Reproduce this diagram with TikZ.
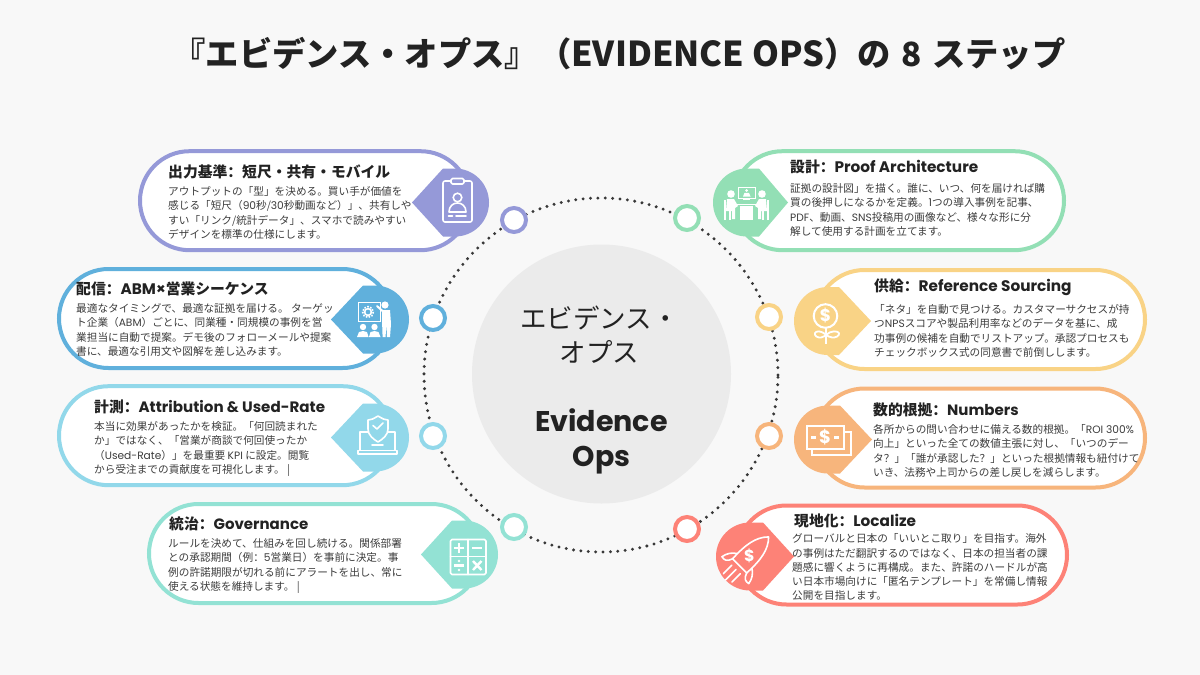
\documentclass[tikz,border=0pt]{standalone}
\usepackage{fontspec}
\usetikzlibrary{shapes.misc}
\setmainfont{Noto Sans CJK JP}
\newfontfamily\ltfont{Poppins}
\newfontfamily\scfont{Noto Sans CJK SC}
\newcommand\lt[1]{{\ltfont #1}}
\newcommand\hl[1]{{\fontsize{15.3}{16}\selectfont\ltfont #1}}
\newcommand\cln{{\scfont ：}}
\newcommand\qm{{\scfont ？}}
\definecolor{bgc}{HTML}{F8F8F8}
\definecolor{hub}{HTML}{EBEBEB}
\definecolor{ink}{HTML}{222222}
\definecolor{bodyink}{HTML}{3C3C3C}
\definecolor{cpurple}{HTML}{9599D8}
\definecolor{cblue}{HTML}{60B0DC}
\definecolor{csky}{HTML}{92D8EA}
\definecolor{cteal}{HTML}{93E2D4}
\definecolor{cgreen}{HTML}{93DFB5}
\definecolor{cyellow}{HTML}{F9D386}
\definecolor{corange}{HTML}{F7B57C}
\definecolor{cred}{HTML}{FD8277}
\tikzset{
  x=1pt,y=-1pt,
  pill/.style={rounded rectangle,draw=#1,line width=4pt,fill=white,inner sep=0pt,minimum height=99pt},
  ring/.style={circle,draw=#1,line width=4pt,fill=white,inner sep=0pt,minimum size=24pt},
  head/.style={anchor=west,inner sep=0pt,text=ink,font=\fontsize{14.8}{16}\selectfont\bfseries},
  para/.style={anchor=north west,inner sep=0pt,align=left,text=bodyink,font=\fontsize{10.65}{14.5}\selectfont},
  ic/.style={draw=white,line width=1.6pt,line cap=round,line join=round},
}
% card: name, colour, pill centre x, y, width, badge x, y, tip x, back x
% badge on the pill's right end, its point towards the text on the left
\newcommand\cardL[9]{
  \node[pill=#2,minimum width=#5pt] (#1pill) at (#3,#4) {};
  \fill[#2] (#8,#7) -- (#9,#7-34) -- (#6,#7-34) arc[start angle=-90,end angle=90,radius=34] -- (#9,#7+34) -- cycle;
}
% badge on the pill's left end, its point towards the text on the right
\newcommand\cardR[9]{
  \node[pill=#2,minimum width=#5pt] (#1pill) at (#3,#4) {};
  \fill[#2] (#8,#7) -- (#9,#7-34) -- (#6,#7-34) arc[start angle=-90,end angle=-270,radius=34] -- (#9,#7+34) -- cycle;
}
\begin{document}
\begin{tikzpicture}
\useasboundingbox (0,0) rectangle (1200,675);
\fill[bgc] (0,0) rectangle (1200,675);

\node[anchor=center,inner sep=0pt,text=ink,font=\fontsize{33.3}{36}\selectfont\bfseries] (title) at (619,54) {『エビデンス・オプス』（{\fontsize{34.3}{36}\selectfont EVIDENCE OPS}）の\kern3pt\ 8 \kern3pt ステップ};

\node[circle,fill=hub,inner sep=0pt,minimum size=259pt] (hub) at (601.5,374) {};
\node[circle,draw=ink!90,line width=3.3pt,line cap=round,dash pattern=on 0pt off 7.4pt,inner sep=0pt,minimum size=354pt] (orbit) at (601,375) {};

\node[inner sep=0pt,text=ink,align=center,font=\fontsize{26.5}{34}\selectfont] (hubjp) at (599.5,335) {エビデンス・\\オプス};
\node[inner sep=0pt,text=ink,align=center,font=\fontsize{28.5}{35}\selectfont\bfseries\ltfont] (huben) at (601.5,441) {Evidence\\Ops};

\node[ring=cpurple] (r1) at (514,220) {};
\node[ring=cblue] (r2) at (433,318) {};
\node[ring=csky] (r3) at (433,436) {};
\node[ring=cteal] (r4) at (514,527) {};
\node[ring=cgreen] (r5) at (687,218) {};
\node[ring=cyellow] (r6) at (769,317) {};
\node[ring=corange] (r7) at (769,436) {};
\node[ring=cred] (r8) at (687,529) {};

\cardL{a}{cpurple}{305}{200.7}{330}{455}{202.5}{412}{443}
\cardL{b}{cblue}{225.5}{318.5}{333}{375}{319.5}{331}{363}
\cardL{c}{csky}{225.5}{435.7}{333}{375}{437.5}{331}{363}
\cardL{d}{cteal}{315}{553.5}{332}{464}{554.5}{421}{452}
\cardR{e}{cgreen}{898.5}{200.7}{331}{747}{202.5}{788}{759}
\cardR{f}{cyellow}{980}{319.5}{330}{828}{321}{871}{839}
\cardR{g}{corange}{980}{438}{330}{828}{439.5}{872}{840}
\cardR{h}{cred}{902}{555}{330}{750}{556.5}{794}{763}

\node[head] (at) at (168,172) {出力基準\cln 短尺・共有・モバイル};
\node[para] (ap) at (168,186) {アウトプットの「型」を決める。買い手が価値を\\感じる「短尺（\lt{90}秒/\lt{30}秒動画など）」、共有しや\\すい「リンク/統計データ」、スマホで読みやすい\\デザインを標準の仕様にします。};
\node[head] (bt) at (76,289) {配信\cln\hl{ABM×}営業シーケンス};
\node[para] (bp) at (76,303) {最適なタイミングで、最適な証拠を届ける。 ターゲッ\\ト企業（\lt{ABM}）ごとに、同業種・同規模の事例を営\\業担当に自動で提案。デモ後のフォローメールや提案\\書に、最適な引用文や図解を差し込みます。};
\node[head] (ct) at (94,407) {計測\cln{\fontsize{15.1}{16}\selectfont\ltfont Attribution \& Used-Rate}};
\node[para] (cp) at (94,421) {本当に効果があったかを検証。「何回読まれた\\か」ではなく、「営業が商談で何回使ったか\\（\lt{Used-Rate}）」を最重要 \lt{KPI} に設定。閲覧\\から受注までの貢献度を可視化します。 |};
\node[head] (dt) at (169,524) {統治\cln{\fontsize{15}{16}\selectfont\ltfont Governance}};
\node[para] (dp) at (168,538) {ルールを決めて、仕組みを回し続ける。関係部署\\との承認期間（例\cln\lt{5}営業日）を事前に決定。事\\例の許諾期限が切れる前にアラートを出し、常に\\使える状態を維持します。 |};
\node[head] (et) at (790,167) {設計\cln\hl{Proof Architecture}};
\node[para] (ep) at (790,183) {証拠の設計図」を描く。誰に、いつ、何を届ければ購\\買の後押しになるかを定義。\lt{1}つの導入事例を記事、\\\lt{PDF}、動画、\lt{SNS}投稿用の画像など、様々な形に分\\解して使用する計画を立てます。};
\node[head] (ft) at (874,287) {供給\cln\hl{Reference Sourcing}};
\node[para] (fp) at (874,304) {「ネタ」を自動で見つける。カスタマーサクセスが持\\つ\lt{NPS}スコアや製品利用率などのデータを基に、成\\功事例の候補を自動でリストアップ。承認プロセスも\\チェックボックス式の同意書で前倒しします。};
\node[head] (gt) at (873,410) {数的根拠\cln{\fontsize{15}{16}\selectfont\ltfont Numbers}};
\node[para] (gp) at (873,424) {各所からの問い合わせに備える数的根拠。「\lt{ROI 300\%}\\向上」といった全ての数値主張に対し、「いつのデー\\タ\qm」「誰が承認した\qm」といった根拠情報も紐付けて\\いき、法務や上司からの差し戻しを減らします。};
\node[head] (ht) at (794,521) {現地化\cln\hl{Localize}};
\node[para,font=\fontsize{10.65}{14.3}\selectfont] (hp) at (792,533.5) {グローバルと日本の「いいとこ取り」を目指す。海外\\の事例はただ翻訳するのではなく、日本の担当者の課\\題感に響くように再構成。また、許諾のハードルが高\\い日本市場向けに「匿名テンプレート」を常備し情報\\公開を目指します。};

% icon 1: clipboard
\draw[ic,rounded corners=2pt] (443,181) rectangle (472,222);
\draw[ic,rounded corners=1.5pt,fill=cpurple] (451,178.5) rectangle (464,184);
\draw[ic] (457.5,197.5) circle (4.3);
\draw[ic] (449,212) .. controls (449,200) and (466,200) .. (466,212) -- cycle;
\draw[ic] (448.5,216) -- (452.5,216) (456,216) -- (466,216);

% icon 2: presenter
\draw[draw=white,line width=1pt] (358,302) rectangle (380,321);
\draw[white,line width=1.6pt] (368,312) circle (3.4);
\draw[white,line width=1.6pt,dash pattern=on 1.6pt off 1.4pt] (368,312) circle (5.4);
\fill[white] (385,305) circle (3.6);
\fill[white] (382,310) -- (390,310) -- (391,324) -- (390,337) -- (387,337) -- (386.5,324) -- (385.5,337) -- (382.6,337) -- (382,320) -- cycle;
\draw[white,line width=2pt,line cap=round] (383,311.5) -- (377,306);
\fill[white] (363,327) circle (3.2) (374.5,327) circle (3.2);
\fill[white] (357,337) -- (359,332) -- (363,331) -- (367,332) -- (368.5,337) -- cycle;
\fill[white] (369,337) -- (370.5,332) -- (374.5,331) -- (378.5,332) -- (380.5,337) -- cycle;

% icon 3: laptop with shield
\draw[ic] (360,450) -- (360,432) -- (395,432) -- (395,450);
\draw[ic] (358,450.5) -- (397,450.5) -- (397,454) -- (358,454) -- cycle;
\draw[ic] (372,445) -- (383,445);
\draw[ic,fill=csky] (378,416) .. controls (373,419) and (371,420) .. (368,420) -- (368,429) .. controls (368,435) and (373,439) .. (378,442) .. controls (383,439) and (388,435) .. (388,429) -- (388,420) .. controls (385,420) and (383,419) .. (378,416) -- cycle;
\draw[ic] (373,425.5) -- (377,429) -- (383,423);

% icon 4: calculator
\draw[ic,rounded corners=1.5pt] (450.5,539.5) rectangle (486,574.5);
\draw[ic] (468,539.5) -- (468,574.5) (450.5,556.5) -- (486,556.5);
\draw[white,line width=2.4pt] (454,548) -- (464,548) (459,543) -- (459,553);
\draw[white,line width=2.4pt] (472,548) -- (482,548);
\draw[white,line width=2.2pt] (454,565.5) -- (464,565.5);
\fill[white] (459,561) circle (1.4) (459,570) circle (1.4);
\draw[white,line width=2.4pt] (473,561) -- (481.5,570) (481.5,561) -- (473,570);

% icon 5: meeting
\draw[draw=white,line width=1pt] (738.5,187.5) rectangle (755,198);
\fill[white] (746.7,190.5) circle (1.5);
\fill[white] (743,196.5) -- (744.5,192.8) -- (749,192.8) -- (750.5,196.5) -- cycle;
\draw[white,line width=1pt] (743,199) -- (750,199);
\fill[white] (731,194) circle (3.8) (762,194) circle (3.8);
\fill[white] (727,199) -- (734,199) -- (738,206) -- (735,208) -- (735,219) -- (732,219) -- (732,211) -- (726,211) -- cycle;
\fill[white] (766,199) -- (759,199) -- (755,206) -- (758,208) -- (758,219) -- (761,219) -- (761,211) -- (767,211) -- cycle;
\fill[white] (740,206) rectangle (753,220);
\draw[white,line width=1.6pt] (735,204.5) -- (758,204.5);
\draw[white,line width=1.4pt] (725,200) -- (725,220) (725,210) -- (730,210) (730,210) -- (730,220);
\draw[white,line width=1.4pt] (768,200) -- (768,220) (768,210) -- (763,210) (763,210) -- (763,220);

% icon 6: coin flower
\draw[white,line width=2pt] (825.5,316) circle (11.8);
\node[inner sep=0pt,text=white,font=\fontsize{17}{18}\selectfont\bfseries\ltfont] (i6) at (825.5,316) {\$};
\draw[white,line width=2pt] (826,328) -- (826,344);
\draw[white,line width=1.8pt,line join=round] (826,335) .. controls (821,330) and (816,331) .. (815,333) .. controls (814,336) and (818,338) .. (821,337.5) .. controls (823,337) and (825,336) .. (826,335) .. controls (831,330) and (838,331) .. (839,333) .. controls (840,336) and (835,338) .. (832,337.5) .. controls (830,337) and (827,336) .. (826,335);

% icon 7: banknotes
\draw[draw=white,line width=2pt] (806.5,426) rectangle (844,449);
\draw[draw=white,line width=2pt] (812,449.5) -- (812,455) -- (851,455) -- (851,432) -- (844.5,432);
\node[inner sep=0pt,text=white,font=\fontsize{18}{18}\selectfont\bfseries\ltfont] (i7) at (825,437) {\$};
\draw[white,line width=2.2pt] (811,437.5) -- (816,437.5) (834,437.5) -- (839,437.5);

% icon 8: rocket
\begin{scope}[shift={(749.5,556)},rotate=45]
\draw[ic] (27,0) .. controls (18,-9) and (5,-11) .. (-14,-10) -- (-14,10) .. controls (5,11) and (18,9) .. (27,0) -- cycle;
\draw[ic] (-7,-10.5) .. controls (-10,-15) and (-14,-18) .. (-20,-19) .. controls (-21,-15) and (-20,-12) .. (-14,-10);
\draw[ic] (-7,10.5) .. controls (-10,15) and (-14,18) .. (-20,19) .. controls (-21,15) and (-20,12) .. (-14,10);
\draw[ic] (-19,-6) -- (-31,-6) (-19,0) -- (-34,0) (-19,6) -- (-31,6);
\end{scope}
\node[inner sep=0pt,text=white,font=\fontsize{16}{18}\selectfont\bfseries\ltfont] (i8) at (749.5,556) {\$};
\end{tikzpicture}
\end{document}
